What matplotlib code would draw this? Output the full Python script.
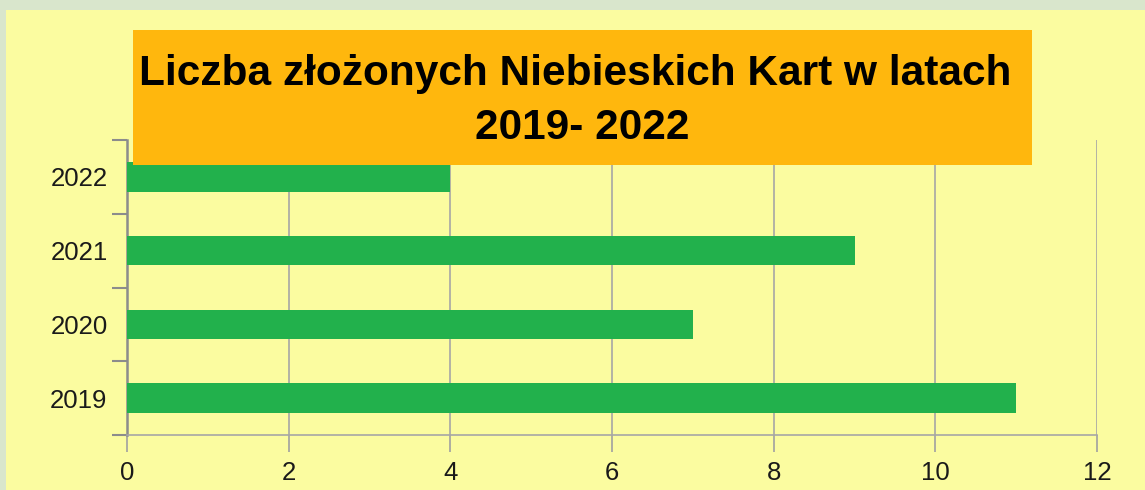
import matplotlib.pyplot as plt
from matplotlib.patches import Rectangle

# data
years = ['2019', '2020', '2021', '2022']
counts = [11, 7, 9, 4]
x_ticks = [0, 2, 4, 6, 8, 10, 12]
title_lines = ['Liczba złożonych Niebieskich Kart w latach', '2019- 2022']

W, H = 1145, 490
plt.rcParams['font.family'] = ['Liberation Sans', 'DejaVu Sans']

fig = plt.figure(figsize=(W / 100, H / 100), dpi=100)
fig.patch.set_facecolor('#d9e6cc')

# pale yellow panel
fig.patches.append(Rectangle((6 / W, 0), 1 - 6 / W, 1 - 10 / H, transform=fig.transFigure,
                             facecolor='#fbfca0', edgecolor='none', zorder=-1))

ax = fig.add_axes([127 / W, 1 - 435 / H, 970 / W, 295 / H])
ax.set_facecolor('none')

pos = list(range(len(years)))
ax.barh(pos, counts, height=0.4, color='#22b14c', zorder=3)

ax.set_xlim(0, 12)
ax.set_ylim(-0.5, 3.5)
ax.set_xticks(x_ticks)
ax.set_xticklabels([str(v) for v in x_ticks])
ax.set_yticks(pos)
ax.set_yticklabels(years)
ax.set_yticks([p - 0.5 for p in pos] + [3.5], minor=True)

ax.tick_params(axis='y', which='major', length=0, pad=14, labelsize=18.5, labelcolor='#1a1a1a')
ax.tick_params(axis='y', which='minor', length=11, width=1.5, color='#8c8c8c')
ax.tick_params(axis='x', length=12, width=1.2, color='#a0a0a0', pad=7, labelsize=18.5,
               labelcolor='#1a1a1a')

ax.grid(axis='x', color='#a6a6a6', linewidth=1.2, zorder=1)
for s in ['top', 'right']:
    ax.spines[s].set_visible(False)
ax.spines['left'].set_color('#8c8c8c')
ax.spines['left'].set_linewidth(1.8)
ax.spines['bottom'].set_color('#a6a6a6')
ax.spines['bottom'].set_linewidth(1.2)

# title box sitting on top of the plot
fig.patches.append(Rectangle((133 / W, 1 - 165 / H), 899 / W, 135 / H, transform=fig.transFigure,
                             facecolor='#ffb70d', edgecolor='none', zorder=5))
fig.text(575 / W, 1 - 74 / H, title_lines[0], ha='center', va='center', fontsize=30.5,
         fontweight='bold', color='black', zorder=6)
fig.text(582 / W, 1 - 128 / H, title_lines[1], ha='center', va='center', fontsize=30.5,
         fontweight='bold', color='black', zorder=6)

fig.savefig('out.png', dpi=100, facecolor=fig.get_facecolor())
